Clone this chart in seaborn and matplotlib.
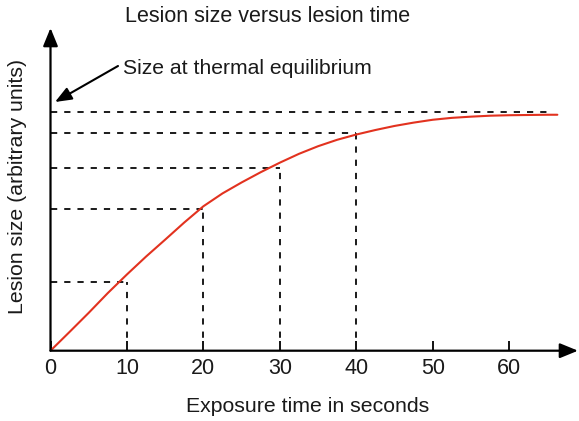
import matplotlib
matplotlib.use("Agg")
import matplotlib.pyplot as plt
import seaborn as sns
import pandas as pd

# ---- data ----
time_s = [0, 2.5, 5, 7.5, 10, 12.5, 15, 17.5, 20, 22.5, 25, 27.5, 30, 32.5, 35,
          37.5, 40, 42.5, 45, 47.5, 50, 52.5, 55, 57.5, 60, 62.5, 65, 66.3]
lesion_size = [0, 7.9, 15.9, 24.2, 32.0, 39.5, 46.6, 53.8, 60.6, 66.0, 70.6, 74.9, 78.9,
               82.6, 85.8, 88.5, 90.7, 92.6, 94.3, 95.7, 96.9, 97.7, 98.2, 98.6, 98.8,
               98.9, 99.0, 99.0]
marker_times = [10, 20, 30, 40]
marker_sizes = [28.8, 59.4, 76.8, 91.2]
equilibrium_size = 100
equilibrium_end = 65.4
x_ticks = [0, 10, 20, 30, 40, 50, 60]
x_tick_labels = ["0", "10", "20", "30", "40", "50", "60"]

title = "Lesion size versus lesion time"
x_label = "Exposure time in seconds"
y_label = "Lesion size (arbitrary units)"
annot_text = "Size at thermal equilibrium"

# ---- style ----
sns.set_theme(style="white")
plt.rcParams["font.family"] = ["Liberation Sans", "DejaVu Sans"]

W, H = 579, 421
fig = plt.figure(figsize=(W / 100, H / 100), dpi=100)
x0, x1 = 50.5, 578
y0, y1 = 350.7, 28
ax = fig.add_axes([x0 / W, 1 - y0 / H, (x1 - x0) / W, (y0 - y1) / H])
ax.set_xlim(0, 69.0)
ax.set_ylim(0, 135.4)
for s in ax.spines.values():
    s.set_visible(False)
ax.patch.set_alpha(0)

dark = "#1a1a1a"
dash = (0, (3.2, 3.6))
lw_d = 1.4
ax.plot([0, equilibrium_end], [equilibrium_size, equilibrium_size], color=dark,
        lw=lw_d, linestyle=dash)
for t, s in zip(marker_times, marker_sizes):
    ax.plot([0, t], [s, s], color=dark, lw=lw_d, linestyle=dash)
    ax.plot([t, t], [0, s], color=dark, lw=lw_d, linestyle=dash)

df = pd.DataFrame({"time": time_s, "size": lesion_size})
sns.lineplot(data=df, x="time", y="size", ax=ax, color="#e2321f", lw=1.5)

# axes arrows
arrow_kw = dict(arrowstyle="-|>,head_length=1.1,head_width=0.45", color="black", lw=1.6,
                shrinkA=0, shrinkB=0, mutation_scale=10)
ax.annotate("", xy=(1, 0), xytext=(0, 0), xycoords="axes fraction",
            textcoords="axes fraction", arrowprops=arrow_kw)
ax.annotate("", xy=(0, 1), xytext=(0, 0), xycoords="axes fraction",
            textcoords="axes fraction", arrowprops=arrow_kw)

ax.set_xticks(x_ticks)
ax.set_xticklabels(x_tick_labels)
ax.set_yticks([])
ax.tick_params(axis="x", direction="in", length=7, width=1.3, color="black",
               labelsize=15.5, pad=5, bottom=True, labelcolor=dark)
ax.set_xlabel("")
ax.set_ylabel("")

fig.text(268 / W, 1 - 17 / H, title, ha="center", va="center", fontsize=15.5, color=dark)
fig.text(308 / W, 1 - 407 / H, x_label, ha="center", va="center", fontsize=15.3, color=dark)
fig.text(18 / W, 1 - 186 / H, y_label, ha="center", va="center", rotation=90,
         fontsize=15.3, color=dark)

# annotation arrow for equilibrium
ax.annotate("", xy=(55 / W, 1 - 102 / H), xytext=(118 / W, 1 - 66 / H),
            xycoords="figure fraction", textcoords="figure fraction",
            arrowprops=dict(arrowstyle="-|>,head_length=1.0,head_width=0.4", color="black",
                            lw=1.5, shrinkA=0, shrinkB=0, mutation_scale=10))
fig.text(123 / W, 1 - 68 / H, annot_text, ha="left", va="center", fontsize=15.2, color=dark)

fig.savefig("out.png", dpi=100)
